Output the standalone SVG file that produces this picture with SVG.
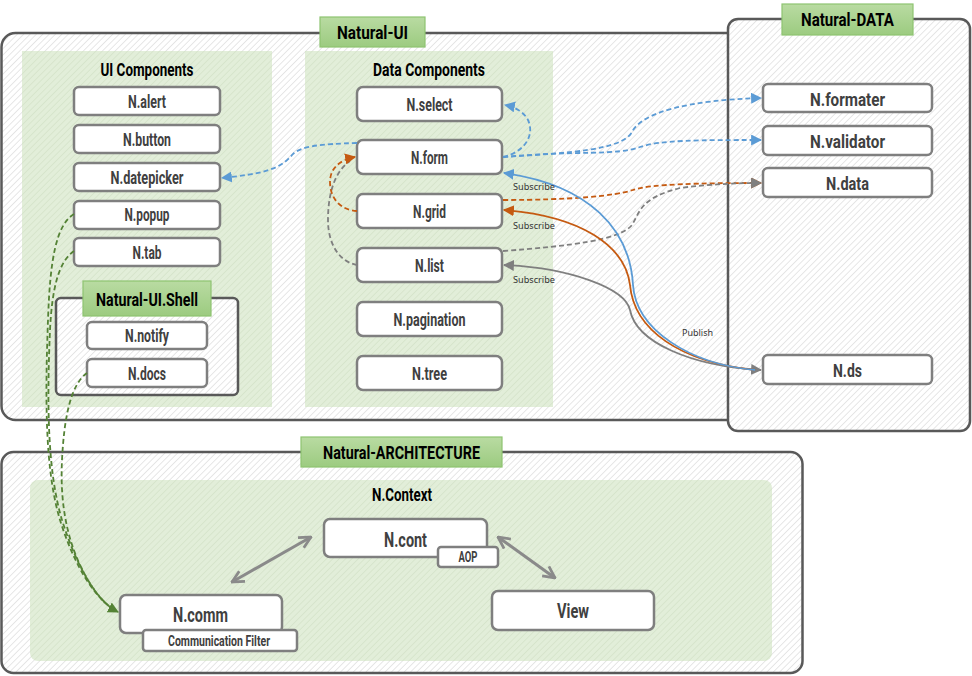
<svg xmlns="http://www.w3.org/2000/svg" width="972" height="676" viewBox="0 0 972 676">
<defs>
<pattern id="hw" width="4.5" height="4.5" patternUnits="userSpaceOnUse" patternTransform="rotate(45)">
<rect width="4.5" height="4.5" fill="#ffffff"/>
<line x1="0" y1="0" x2="0" y2="4.5" stroke="#d4d4d4" stroke-width="1.1"/>
</pattern>
<pattern id="hg" width="4.5" height="4.5" patternUnits="userSpaceOnUse" patternTransform="rotate(45)">
<rect width="4.5" height="4.5" fill="#e2eed9"/>
<line x1="0" y1="0" x2="0" y2="4.5" stroke="#cfdfc3" stroke-width="1.1"/>
</pattern>
<linearGradient id="lg" x1="0" y1="0" x2="0" y2="1">
<stop offset="0" stop-color="#b9dba2"/>
<stop offset="1" stop-color="#9ccb80"/>
</linearGradient>
<marker id="aB" viewBox="0 0 10 10" refX="9" refY="5" markerWidth="11" markerHeight="11" markerUnits="userSpaceOnUse" orient="auto-start-reverse"><path d="M0,0 L10,5 L0,10 z" fill="#5b9bd5"/></marker>
<marker id="aO" viewBox="0 0 10 10" refX="9" refY="5" markerWidth="11" markerHeight="11" markerUnits="userSpaceOnUse" orient="auto-start-reverse"><path d="M0,0 L10,5 L0,10 z" fill="#c55a11"/></marker>
<marker id="aG" viewBox="0 0 10 10" refX="9" refY="5" markerWidth="11" markerHeight="11" markerUnits="userSpaceOnUse" orient="auto-start-reverse"><path d="M0,0 L10,5 L0,10 z" fill="#7f7f7f"/></marker>
<marker id="aN" viewBox="0 0 10 10" refX="9" refY="5" markerWidth="11" markerHeight="11" markerUnits="userSpaceOnUse" orient="auto-start-reverse"><path d="M0,0 L10,5 L0,10 z" fill="#548235"/></marker>
<marker id="aV" viewBox="0 0 12 12" refX="11" refY="6" markerWidth="14" markerHeight="14" markerUnits="userSpaceOnUse" orient="auto-start-reverse"><path d="M1,1 L11,6 L1,11" fill="none" stroke="#8a8a8a" stroke-width="2.4"/></marker>
</defs>
<style>
.outer{fill:url(#hw);stroke:#595959;stroke-width:2.5}
.panel{fill:url(#hg);stroke:none}
.lbl{fill:url(#lg);stroke:#8ec471;stroke-width:1.2}
.node{fill:#ffffff;stroke:#7f7f7f;stroke-width:2.5}
text{font-family:"Roboto","Liberation Sans",sans-serif;font-weight:bold;text-anchor:middle}
.t{font-size:18px;fill:#404040}
.td{font-size:19px;fill:#404040}
.tb{font-size:19px;fill:#404040}
.ta{font-size:21px;fill:#404040}
.ti{font-size:19px;fill:#000000}
.tl{font-size:19px;fill:#000000}
.ts{font-family:"Noto Sans","Open Sans","Liberation Sans",sans-serif;font-weight:normal;font-size:9.5px;fill:#333333;text-anchor:start}
.sm{font-size:14px;fill:#404040}
.d{fill:none;stroke-width:1.8;stroke-dasharray:5,3}
.s{fill:none;stroke-width:1.8}
</style>

<g id="natural-ui">
<rect class="outer" x="1.5" y="33" width="760" height="387" rx="14"/>
<rect class="panel" x="22" y="51" width="250" height="356"/>
<text class="ti" x="147" y="76" textLength="93" lengthAdjust="spacingAndGlyphs">UI Components</text>
<rect class="panel" x="305" y="51" width="248" height="356"/>
<text class="ti" x="429" y="76" textLength="112" lengthAdjust="spacingAndGlyphs">Data Components</text>
<rect class="lbl" x="320" y="17" width="105" height="30"/>
<text class="tl" x="372.5" y="39" textLength="71" lengthAdjust="spacingAndGlyphs">Natural-UI</text>
</g>

<g id="n-alert"><rect class="node" x="74" y="87" width="146" height="28" rx="5"/><text class="t" x="147" y="108" textLength="38" lengthAdjust="spacingAndGlyphs">N.alert</text></g>
<g id="n-button"><rect class="node" x="74" y="125" width="146" height="28" rx="5"/><text class="t" x="147" y="146" textLength="48" lengthAdjust="spacingAndGlyphs">N.button</text></g>
<g id="n-datepicker"><rect class="node" x="74" y="163" width="146" height="28" rx="5"/><text class="t" x="147" y="184" textLength="73" lengthAdjust="spacingAndGlyphs">N.datepicker</text></g>
<g id="n-popup"><rect class="node" x="74" y="201" width="146" height="28" rx="5"/><text class="t" x="147" y="221" textLength="45" lengthAdjust="spacingAndGlyphs">N.popup</text></g>
<g id="n-tab"><rect class="node" x="74" y="238" width="146" height="28" rx="5"/><text class="t" x="147" y="259" textLength="29" lengthAdjust="spacingAndGlyphs">N.tab</text></g>

<g id="natural-ui-shell">
<rect x="56" y="298" width="182" height="97" rx="5" fill="url(#hw)" stroke="#595959" stroke-width="2.5"/>
<rect class="lbl" x="83" y="281" width="128" height="35"/>
<text class="tl" x="147" y="306" textLength="102" lengthAdjust="spacingAndGlyphs">Natural-UI.Shell</text>
</g>
<g id="n-notify"><rect class="node" x="87" y="322" width="120" height="27" rx="5"/><text class="t" x="147" y="342" textLength="44" lengthAdjust="spacingAndGlyphs">N.notify</text></g>
<g id="n-docs"><rect class="node" x="87" y="359" width="120" height="28" rx="5"/><text class="t" x="147" y="380" textLength="38" lengthAdjust="spacingAndGlyphs">N.docs</text></g>

<g id="n-select"><rect class="node" x="357" y="87" width="145" height="34" rx="6"/><text class="td" x="429.5" y="111" textLength="46" lengthAdjust="spacingAndGlyphs">N.select</text></g>
<g id="n-form"><rect class="node" x="357" y="140" width="145" height="34" rx="6"/><text class="td" x="429.5" y="164" textLength="37" lengthAdjust="spacingAndGlyphs">N.form</text></g>
<g id="n-grid"><rect class="node" x="357" y="194" width="145" height="34" rx="6"/><text class="td" x="429.5" y="218" textLength="33" lengthAdjust="spacingAndGlyphs">N.grid</text></g>
<g id="n-list"><rect class="node" x="357" y="248" width="145" height="34" rx="6"/><text class="td" x="429.5" y="272" textLength="29" lengthAdjust="spacingAndGlyphs">N.list</text></g>
<g id="n-pagination"><rect class="node" x="357" y="302" width="145" height="34" rx="6"/><text class="td" x="429.5" y="326" textLength="72" lengthAdjust="spacingAndGlyphs">N.pagination</text></g>
<g id="n-tree"><rect class="node" x="357" y="356" width="145" height="34" rx="6"/><text class="td" x="429.5" y="380" textLength="35" lengthAdjust="spacingAndGlyphs">N.tree</text></g>

<g id="natural-data">
<rect class="outer" x="728" y="19" width="242" height="412" rx="10"/>
<rect class="lbl" x="782" y="4" width="131" height="31"/>
<text class="tl" x="847.5" y="26" textLength="93" lengthAdjust="spacingAndGlyphs">Natural-DATA</text>
</g>
<g id="n-formater"><rect class="node" x="763" y="84" width="169" height="28" rx="5"/><text class="tb" x="847.5" y="106" textLength="75" lengthAdjust="spacingAndGlyphs">N.formater</text></g>
<g id="n-validator"><rect class="node" x="763" y="126" width="169" height="29" rx="5"/><text class="tb" x="847.5" y="148" textLength="75" lengthAdjust="spacingAndGlyphs">N.validator</text></g>
<g id="n-data"><rect class="node" x="763" y="168" width="169" height="29" rx="5"/><text class="tb" x="847.5" y="190" textLength="43" lengthAdjust="spacingAndGlyphs">N.data</text></g>
<g id="n-ds"><rect class="node" x="763" y="355" width="169" height="29" rx="5"/><text class="tb" x="847.5" y="377" textLength="29" lengthAdjust="spacingAndGlyphs">N.ds</text></g>

<g id="natural-architecture">
<rect class="outer" x="1.5" y="452" width="801" height="221" rx="12"/>
<rect class="panel" x="30" y="480" width="742" height="181" rx="8"/>
<text class="ti" x="402" y="501" textLength="60" lengthAdjust="spacingAndGlyphs">N.Context</text>
<rect class="lbl" x="301" y="437" width="201" height="30"/>
<text class="tl" x="401.5" y="459" textLength="157" lengthAdjust="spacingAndGlyphs">Natural-ARCHITECTURE</text>
</g>
<g id="n-cont"><rect class="node" x="324" y="519" width="163" height="38" rx="6"/><text class="ta" x="405.5" y="547" textLength="43" lengthAdjust="spacingAndGlyphs">N.cont</text>
<rect class="node" x="438" y="547" width="60" height="20" rx="3" stroke-width="2"/><text class="sm" x="468" y="562" textLength="19" lengthAdjust="spacingAndGlyphs">AOP</text></g>
<g id="n-comm"><rect class="node" x="120" y="595" width="162" height="38" rx="6"/><text class="ta" x="200.5" y="622" textLength="55" lengthAdjust="spacingAndGlyphs">N.comm</text>
<rect class="node" x="143" y="630" width="154" height="21" rx="3" stroke-width="2"/><text class="sm" x="219" y="646" textLength="102" lengthAdjust="spacingAndGlyphs">Communication Filter</text></g>
<g id="n-view"><rect class="node" x="492" y="591" width="162" height="39" rx="6"/><text class="ta" x="573" y="618" textLength="32" lengthAdjust="spacingAndGlyphs">View</text></g>

<g id="connectors">
<path class="d" stroke="#5b9bd5" marker-end="url(#aB)" d="M357,143 C 320,144 300,146 292,155 C 280,170 260,174 222,178"/>
<path class="d" stroke="#5b9bd5" marker-end="url(#aB)" d="M503,157 C 525,152 535,135 528,120 C 524,112 515,107 505,105"/>
<path class="d" stroke="#5b9bd5" marker-end="url(#aB)" d="M503,157 C 570,153 622,150 632,132 C 642,112 690,100 761,98"/>
<path class="d" stroke="#5b9bd5" marker-end="url(#aB)" d="M503,157 C 580,150 615,156 640,147 C 660,140 700,140 761,140"/>
<path class="d" stroke="#c55a11" marker-end="url(#aO)" d="M503,200 C 570,200 615,196 633,190 C 650,184 700,183 761,183"/>
<path class="d" stroke="#7f7f7f" marker-end="url(#aG)" d="M503,251 C 570,246 620,240 632,225 C 640,212 640,198 680,188 C 710,184 740,183 761,183"/>
<path class="d" stroke="#7f7f7f" d="M357,265 C 340,262 328,245 328,220 C 328,195 334,172 350,161"/>
<path class="d" stroke="#c55a11" marker-end="url(#aO)" d="M357,211 C 340,210 330,198 330,182 C 330,168 340,160 355,157"/>
<path class="s" stroke="#7f7f7f" marker-start="url(#aG)" marker-end="url(#aG)" d="M504,265 C 570,268 625,288 630,310 C 636,342 690,366 761,370"/>
<path class="s" stroke="#c55a11" marker-start="url(#aO)" d="M504,210 C 580,216 625,245 630,285 C 634,330 680,362 755,370"/>
<path class="s" stroke="#5b9bd5" marker-start="url(#aB)" d="M504,173 C 590,185 630,230 633,285 C 636,330 690,364 755,370"/>
<text class="ts" x="513" y="190" textLength="42" lengthAdjust="spacingAndGlyphs">Subscribe</text>
<text class="ts" x="513" y="229" textLength="42" lengthAdjust="spacingAndGlyphs">Subscribe</text>
<text class="ts" x="513" y="283" textLength="42" lengthAdjust="spacingAndGlyphs">Subscribe</text>
<text class="ts" x="682" y="336" textLength="31" lengthAdjust="spacingAndGlyphs">Publish</text>
<path class="d" stroke="#548235" marker-end="url(#aN)" d="M74,214 C 56,225 50,260 48,320 C 45,400 45,470 60,520 C 74,565 95,600 118,612"/>
<path class="d" stroke="#548235" d="M74,251 C 58,262 52,290 50,330 C 47,400 47,470 62,520 C 76,565 96,600 116,611"/>
<path class="d" stroke="#548235" d="M87,373 C 70,385 64,420 62,460 C 60,500 66,535 80,565 C 92,590 104,604 116,611"/>
<path fill="none" stroke="#8a8a8a" stroke-width="3" marker-start="url(#aV)" marker-end="url(#aV)" d="M232,582 L311,537"/>
<path fill="none" stroke="#8a8a8a" stroke-width="3" marker-start="url(#aV)" marker-end="url(#aV)" d="M498,537 L555,578"/>
</g>
</svg>
